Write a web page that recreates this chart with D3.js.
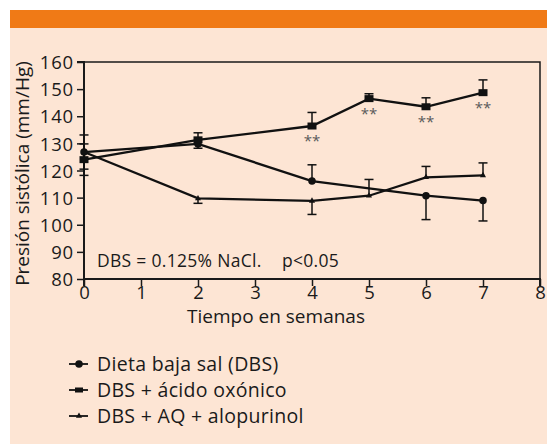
<!DOCTYPE html>
<html>
<head>
<meta charset="utf-8">
<script src="https://cdn.jsdelivr.net/npm/d3@7"></script>
<style>
  body { margin: 0; background: #fff; }
  svg text { font-family: "Open Sans", "Lato", sans-serif; fill: #1a1a1a; }
</style>
</head>
<body>
<div id="chart"></div>
<script>
// Presión sistólica vs tiempo

const yTicks = [80, 90, 100, 110, 120, 130, 140, 150, 160];
const xTicks = [0, 1, 2, 3, 4, 5, 6, 7, 8];

// Dieta baja sal (DBS) - círculos
const dbsWeeks = [0, 2, 4, 6, 7];
const dbsMean = [126.8, 129.8, 116.1, 110.7, 108.9];
const dbsErr = [6.3, 1.6, 6.0, 8.8, 7.5];
const dbsDir = ['both', 'down', 'up', 'down', 'down'];

// DBS + ácido oxónico - cuadrados
const aoWeeks = [0, 2, 4, 5, 6, 7];
const aoMean = [124.0, 131.3, 136.4, 146.5, 143.5, 148.7];
const aoErr = [5.8, 2.6, 5.0, 1.8, 3.3, 4.7];
const aoDir = ['both', 'up', 'up', 'up', 'up', 'up'];
const aoStars = [false, false, true, true, true, true];

// DBS + AQ + alopurinol - triángulos
const alWeeks = [0, 2, 4, 5, 6, 7];
const alMean = [126.8, 109.7, 108.8, 110.7, 117.5, 118.2];
const alErr = [0, 1.8, 5.0, 6.0, 4.0, 4.6];
const alDir = ['up', 'down', 'down', 'up', 'up', 'up'];

const legendLabels = ['Dieta baja sal (DBS)', 'DBS + ácido oxónico', 'DBS + AQ + alopurinol'];

const W = 547, H = 444;
const svg = d3.select('#chart').append('svg').attr('width', W).attr('height', H);

// fondo y banda naranja
svg.append('rect').attr('x', 10).attr('y', 10).attr('width', W - 10).attr('height', H - 10).attr('fill', '#fde5d4');
svg.append('rect').attr('x', 10).attr('y', 10).attr('width', W - 10).attr('height', 18).attr('fill', '#f07a16');

const x = d3.scaleLinear().domain([0, 8]).range([84, 540]);
const y = d3.scaleLinear().domain([80, 160]).range([279, 62]);

// marco superior y derecho
svg.append('path')
  .attr('d', `M${x(0)},${y(160)}H${x(8)}V${y(80)}`)
  .attr('fill', 'none').attr('stroke', '#1a1a1a').attr('stroke-width', 1.5);

const yAxis = svg.append('g')
  .attr('transform', `translate(${x(0)},0)`)
  .call(d3.axisLeft(y).tickValues(yTicks).tickSize(7).tickPadding(3));
const xAxis = svg.append('g')
  .attr('transform', `translate(0,${y(80)})`)
  .call(d3.axisBottom(x).tickValues(xTicks).tickSize(7).tickPadding(0));
[yAxis, xAxis].forEach(a => {
  a.select('.domain').attr('stroke', '#1a1a1a').attr('stroke-width', 2);
  a.selectAll('.tick line').attr('stroke', '#1a1a1a').attr('stroke-width', 1.5);
  a.selectAll('.tick text').attr('font-size', 18.5).attr('fill', '#1a1a1a');
});
yAxis.selectAll('.tick text').attr('dy', '0.36em').attr('letter-spacing', 0.8);
yAxis.select('.domain').attr('d', `M-7,${y(160)}H0V${y(80)}`);
xAxis.select('.domain').attr('d', `M${x(0)},7V0H${x(8)}V7`);

svg.append('text')
  .attr('transform', `translate(29,${(y(80) + y(160)) / 2 + 3}) rotate(-90)`)
  .attr('text-anchor', 'middle').attr('font-size', 19)
  .text('Presión sistólica (mm/Hg)');

svg.append('text')
  .attr('x', 276).attr('y', 323)
  .attr('text-anchor', 'middle').attr('font-size', 19)
  .text('Tiempo en semanas');

svg.append('text').attr('x', 97).attr('y', 267).attr('font-size', 17.5).attr('letter-spacing', 0.3).text('DBS = 0.125% NaCl.');
svg.append('text').attr('x', 282).attr('y', 267).attr('font-size', 17.5).attr('letter-spacing', 0.3).text('p<0.05');

function series(weeks, mean, err, dir) {
  return weeks.map((w, i) => ({ w: w, m: mean[i], e: err[i], d: dir[i] }));
}
const dbs = series(dbsWeeks, dbsMean, dbsErr, dbsDir);
const ao = series(aoWeeks, aoMean, aoErr, aoDir);
const al = series(alWeeks, alMean, alErr, alDir);

const line = d3.line().x(d => x(d.w)).y(d => y(d.m));

function drawErr(data) {
  const g = svg.append('g').attr('stroke', '#111').attr('stroke-width', 1.5);
  data.filter(d => d.e > 0).forEach(d => {
    const hi = d.d === 'down' ? d.m : d.m + d.e;
    const lo = d.d === 'up' ? d.m : d.m - d.e;
    g.append('line').attr('x1', x(d.w)).attr('x2', x(d.w)).attr('y1', y(hi)).attr('y2', y(lo));
    if (d.d !== 'down') g.append('line').attr('x1', x(d.w) - 4.5).attr('x2', x(d.w) + 4.5).attr('y1', y(hi)).attr('y2', y(hi));
    if (d.d !== 'up') g.append('line').attr('x1', x(d.w) - 4.5).attr('x2', x(d.w) + 4.5).attr('y1', y(lo)).attr('y2', y(lo));
  });
}

[dbs, ao, al].forEach(s => {
  drawErr(s);
  svg.append('path').datum(s).attr('d', line)
    .attr('fill', 'none').attr('stroke', '#111').attr('stroke-width', 2.3);
});

const circle = d3.symbol().type(d3.symbolCircle).size(44);
const tri = d3.symbol().type(d3.symbolTriangle).size(16);

svg.selectAll('.dbs-pt').data(dbs).join('path')
  .attr('transform', d => `translate(${x(d.w)},${y(d.m)})`).attr('d', circle).attr('fill', '#111');
svg.selectAll('.ao-pt').data(ao).join('rect')
  .attr('x', d => x(d.w) - 4.5).attr('y', d => y(d.m) - 3.5)
  .attr('width', 9).attr('height', 7).attr('fill', '#111');
svg.selectAll('.al-pt').data(al).join('path')
  .attr('transform', d => `translate(${x(d.w)},${y(d.m)})`).attr('d', tri).attr('fill', '#111');

svg.selectAll('.stars').data(ao.filter((d, i) => aoStars[i])).join('text')
  .attr('x', d => x(d.w)).attr('y', d => y(d.m) + 20)
  .attr('text-anchor', 'middle').attr('font-size', 15).style('fill', '#5a5a5a')
  .text('**');

// leyenda
const leg = svg.append('g').selectAll('g').data(legendLabels).join('g')
  .attr('transform', (d, i) => `translate(69,${364 + i * 26})`);
leg.append('line').attr('x1', 0).attr('x2', 19).attr('stroke', '#111').attr('stroke-width', 1.8);
leg.filter((d, i) => i === 0).append('path').attr('transform', 'translate(10,0)').attr('d', circle).attr('fill', '#111');
leg.filter((d, i) => i === 1).append('rect').attr('x', 6).attr('y', -2.5).attr('width', 8).attr('height', 5).attr('fill', '#111');
leg.filter((d, i) => i === 2).append('path').attr('transform', 'translate(10,0)').attr('d', tri).attr('fill', '#111');
leg.append('text').attr('x', 28).attr('dy', '0.36em').attr('font-size', 19.5).attr('letter-spacing', 0.3).text(d => d);
</script>
</body>
</html>
